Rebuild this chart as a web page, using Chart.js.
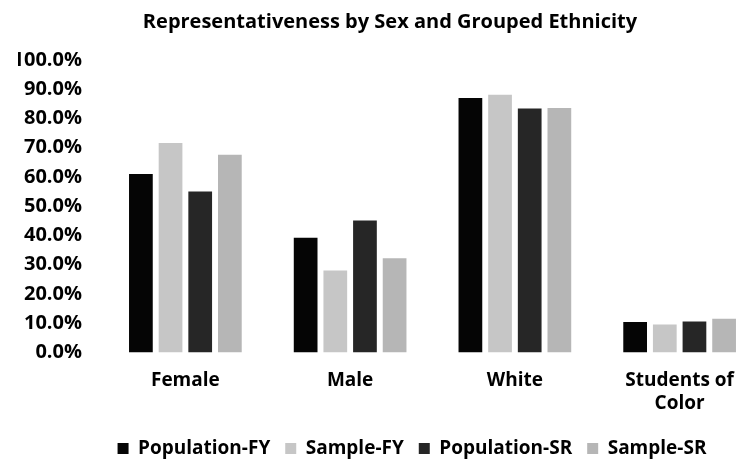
<!DOCTYPE html>
<html lang="en">

<head>
    <meta charset="UTF-8">
    <title>Representativeness by Sex and Grouped Ethnicity</title>
    <script src="https://cdn.jsdelivr.net/npm/chart.js"></script>
    <style>
        body {
            margin: 0;
            background: #fff;
            overflow: hidden;
        }

        .chart-container {
            width: 780px;
            height: 468px;
        }
    </style>
</head>

<body>
    <div class="chart-container">
        <canvas id="chart" width="780" height="468"></canvas>
    </div>

    <script>
        // categories and series (percent)
        const categories = ["Female", "Male", "White", ["Students of", "Color"]];
        const populationFY = [61.0, 39.2, 87.0, 10.4];
        const sampleFY = [71.6, 28.0, 88.1, 9.5];
        const populationSR = [55.0, 45.1, 83.4, 10.6];
        const sampleSR = [67.6, 32.2, 83.6, 11.5];
        const yTicks = [0, 10, 20, 30, 40, 50, 60, 70, 80, 90, 100];

        const fontFamily = "'Open Sans'";
        const labelFont = { family: fontFamily, size: 19, weight: "bold" };

        // nudge the legend a bit to the right, like the original
        const legendShift = {
            id: "legendShift",
            afterLayout(chart) {
                chart.legend.left += 22;
                chart.legend.right += 22;
            }
        };

        new Chart(document.getElementById("chart"), {
            type: "bar",
            data: {
                labels: categories,
                datasets: [
                    { label: "Population-FY", data: populationFY, backgroundColor: "#050505" },
                    { label: "Sample-FY", data: sampleFY, backgroundColor: "#c6c6c6" },
                    { label: "Population-SR", data: populationSR, backgroundColor: "#262626" },
                    { label: "Sample-SR", data: sampleSR, backgroundColor: "#b6b6b6" }
                ]
            },
            plugins: [legendShift],
            options: {
                responsive: false,
                animation: false,
                layout: { padding: { top: 6, right: 18, bottom: 0, left: 18 } },
                datasets: {
                    bar: { categoryPercentage: 0.72, barPercentage: 0.8 }
                },
                plugins: {
                    title: {
                        display: true,
                        text: "Representativeness by Sex and Grouped Ethnicity",
                        color: "#000",
                        font: { family: fontFamily, size: 20, weight: "bold" },
                        padding: { top: 4, bottom: 26 }
                    },
                    legend: {
                        position: "bottom",
                        labels: {
                            color: "#000",
                            boxWidth: 11,
                            boxHeight: 11,
                            padding: 15,
                            font: labelFont
                        }
                    },
                    tooltip: { enabled: false }
                },
                scales: {
                    x: {
                        grid: { display: false },
                        border: { display: false },
                        ticks: {
                            color: "#000",
                            maxRotation: 0,
                            padding: 9,
                            font: labelFont
                        }
                    },
                    y: {
                        min: 0,
                        max: 100,
                        afterFit: (scale) => { scale.width = 85; },
                        afterBuildTicks: (scale) => {
                            scale.ticks = yTicks.map(v => ({ value: v }));
                        },
                        grid: { display: false, drawTicks: false },
                        border: { display: false },
                        ticks: {
                            color: "#000",
                            padding: 21,
                            font: { family: fontFamily, size: 20, weight: "bold" },
                            callback: (v) => v.toFixed(1) + "%"
                        }
                    }
                }
            }
        });
    </script>
</body>

</html>
